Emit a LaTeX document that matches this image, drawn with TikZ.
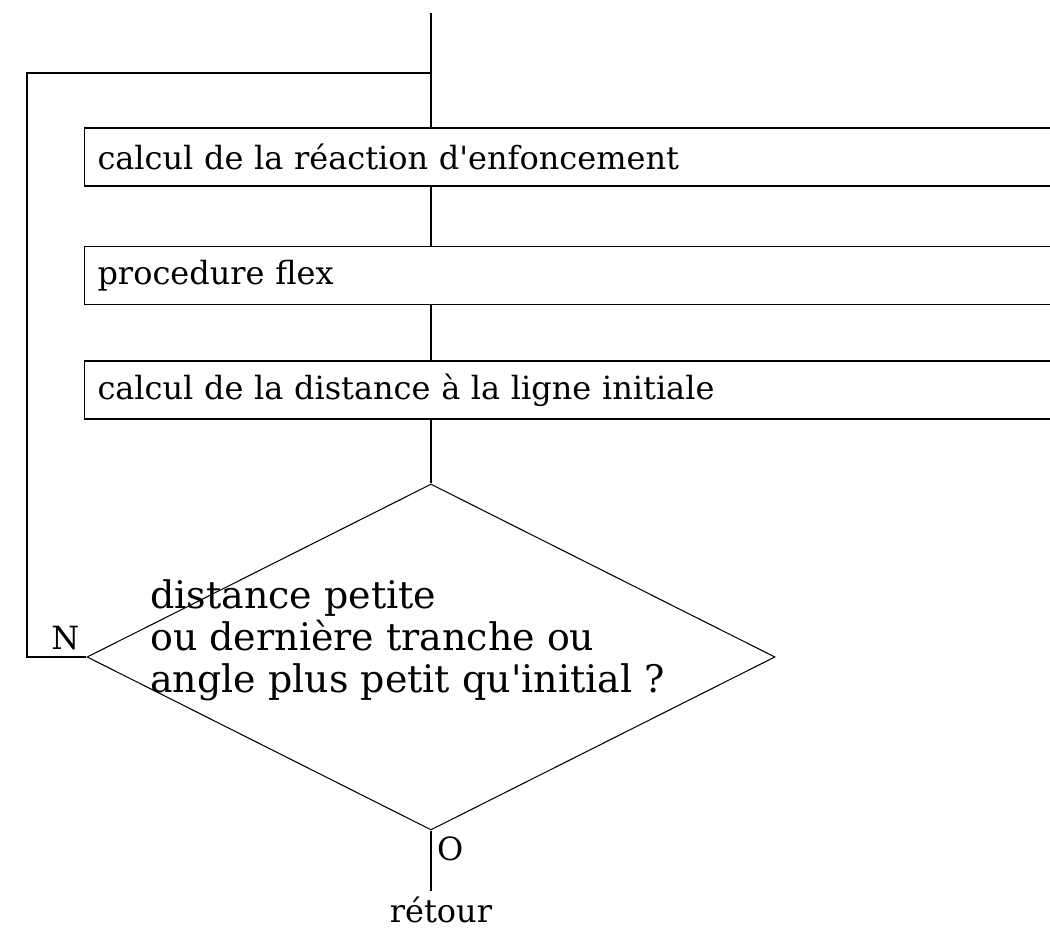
\documentclass[tikz,border=0pt]{standalone}
\usepackage{fontspec}
\setmainfont{DejaVu Serif}
\usepackage{tikz}
\usetikzlibrary{positioning,shapes.geometric}
\tikzset{
  flowline/.style={line width=0.6pt},
  procbox/.style={draw, line width=0.6pt, anchor=west, minimum height=1.16cm, inner xsep=0.26cm, text width=19.08cm, align=left},
  testbox/.style={draw, diamond, line width=0.6pt, minimum width=13.76cm, minimum height=6.92cm, inner sep=0pt},
  testtext/.style={align=left, anchor=west, inner sep=0pt, font=\fontsize{21.6}{24}\selectfont}
}
\begin{document}
\begin{tikzpicture}[every node/.style={font=\fontsize{18.2}{22}\selectfont}]
  \useasboundingbox (0,0) rectangle (21,-18.62);
  \coordinate (top) at (8.62,-0.26);
  \coordinate (loop) at (8.62,-1.46);
  \coordinate (loopleft) at (0.54,-1.46);
  \node[procbox] (react) at (1.68,-3.14) {calcul de la r\'eaction d\textquotesingle enfoncement};
  \node[procbox] (flex) at (1.68,-5.51) {procedure flex};
  \node[procbox] (dist) at (1.68,-7.80) {calcul de la distance \`a la ligne initiale};
  \node[testbox] (test) at (8.62,-13.14) {};
  \node[testtext] (testlbl) at (3.0,-12.8) {distance petite\\ou derni\`ere tranche ou\\angle plus petit qu\textquotesingle initial ?};
  \node[above left=0.02cm and 0.02cm of test.west] (no) {N};
  \node[below right=0cm and 0cm of test.south] (yes) {O};
  \node (ret) at (8.82,-18.2) {r\'etour};
  \draw[flowline] (top) -- (react.north -| top);
  \draw[flowline] (react.south -| top) -- (flex.north -| top);
  \draw[flowline] (flex.south -| top) -- (dist.north -| top);
  \draw[flowline] (dist.south -| top) -- (test.north);
  \draw[flowline] (test.west) -| (loopleft) -- (loop);
  \draw[flowline] (test.south) -- (test.south |- ret.north);
\end{tikzpicture}
\end{document}
